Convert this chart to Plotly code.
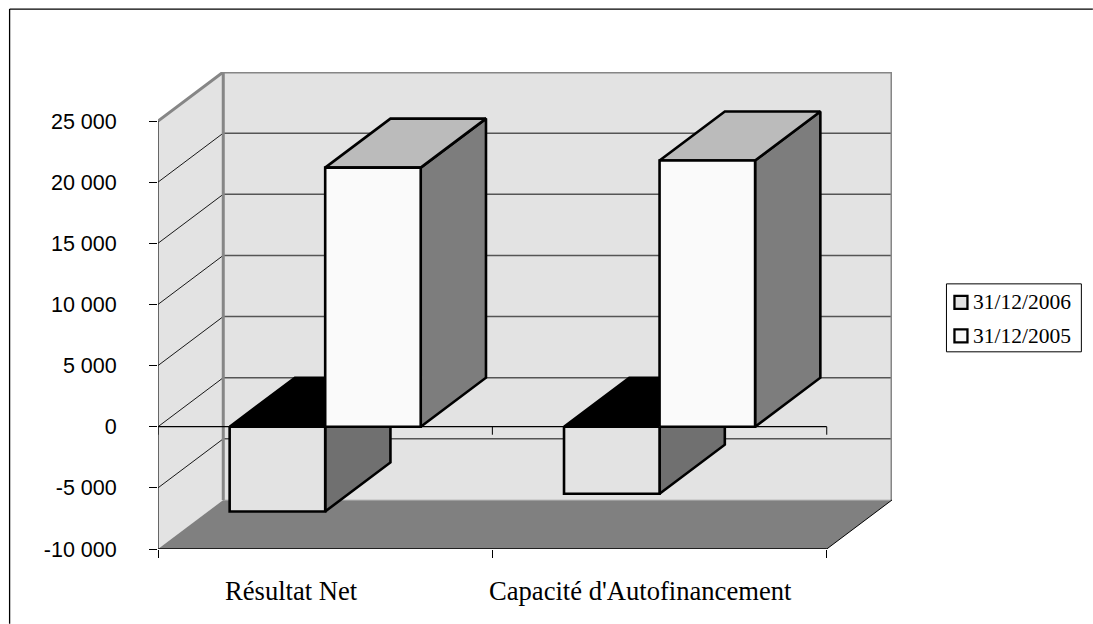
import plotly.graph_objects as go

# Data
categories = ["Résultat Net", "Capacité d'Autofinancement"]
series_names = ["31/12/2006", "31/12/2005"]
values_2006 = [-6930, -5480]
values_2005 = [21190, 21770]
y_ticks = [-10000, -5000, 0, 5000, 10000, 15000, 20000, 25000]
y_tick_labels = ["-10 000", "-5 000", "0", "5 000", "10 000", "15 000", "20 000", "25 000"]

# Layout of the pseudo-3D box (pixels)
W, H = 1093, 624
PX_L, PX_R = 157.5, 892.0
PX_T, PX_B = 72.0, 549.3
CAT_PX = 334.6
UNIT_PX = 61.1 / 5000
DEPTH_PX_X, DEPTH_PX_Y = 65.3, 49.0
DX = DEPTH_PX_X / CAT_PX          # depth in category units
DY = DEPTH_PX_Y / UNIT_PX         # depth in value units
Y_MIN, Y_TOP = -10000, 25000
N = len(categories)
BAR_W = 1 / 3.5
GAP = 0.75 * BAR_W
TICK_V = 8 / UNIT_PX

C_WALL = "#E3E3E3"
C_FLOOR = "#808080"
C_BORDER = "#868686"
C_GRID = "#555555"

fig = go.Figure()


def poly(xs, ys, fill=None, line="black", width=1.0):
    fig.add_trace(go.Scatter(
        x=xs, y=ys, mode="lines" if width else "none",
        line=dict(color=line, width=width) if width else None,
        fill="toself" if fill else None, fillcolor=fill,
        showlegend=False, hoverinfo="skip", cliponaxis=False))


# Walls and floor
poly([0, DX, DX, 0, 0], [Y_MIN, Y_MIN + DY, Y_TOP + DY, Y_TOP, Y_MIN], fill=C_WALL, width=0)
poly([DX, N + DX, N + DX, DX, DX], [Y_MIN + DY, Y_MIN + DY, Y_TOP + DY, Y_TOP + DY, Y_MIN + DY], fill=C_WALL, width=0)
poly([0, N, N + DX, DX, 0], [Y_MIN, Y_MIN, Y_MIN + DY, Y_MIN + DY, Y_MIN], fill=C_FLOOR, width=0)
poly([DX, N + DX], [Y_MIN + DY, Y_MIN + DY], line="#BDBDBD", width=1)

# Gridlines: thin diagonal on the side wall, heavier horizontal on the back wall
for v in y_ticks[1:-1]:
    poly([DX, N + DX], [v + DY, v + DY], line=C_GRID, width=1.5)
    poly([0, DX], [v, v + DY], line="black", width=0.9)

# Wall borders
poly([0, DX, N + DX, N + DX], [Y_TOP, Y_TOP + DY, Y_TOP + DY, Y_MIN + DY], line=C_BORDER, width=3)
poly([DX, DX], [Y_MIN + DY, Y_TOP + DY], line=C_BORDER, width=3)
poly([N, N + DX], [Y_MIN, Y_MIN + DY], line="black", width=1)
poly([0, N], [Y_MIN, Y_MIN], line="black", width=1.3)

# Value axis line, category axis at zero with its ticks
poly([0, 0], [Y_TOP, Y_MIN], line="#222222", width=1.3)
poly([0, N], [0, 0], line="black", width=1.3)
for i in range(N + 1):
    poly([i, i], [0, -TICK_V], line="black", width=1)


def bar(i, slot, v, front, top, side):
    x0 = i + GAP + slot * BAR_W
    x1 = x0 + BAR_W
    lw = 2.6
    poly([x1, x1 + DX, x1 + DX, x1, x1], [0, DY, v + DY, v, 0], fill=side, width=lw)
    if v >= 0:
        poly([x0, x1, x1 + DX, x0 + DX, x0], [v, v, v + DY, v + DY, v], fill=top, width=lw)
    else:
        poly([x0, x1, x1 + DX, x0 + DX, x0], [0, 0, DY, DY, 0], fill=top, width=lw)
    poly([x0, x1, x1, x0, x0], [0, 0, v, v, 0], fill=front, width=lw)


for i in range(N):
    bar(i, 0, values_2006[i], "#E3E3E3", "#000000", "#707070")
    bar(i, 1, values_2005[i], "#FAFAFA", "#BBBBBB", "#7D7D7D")

# Page-pixel helpers for the legend box and the outer frame
px = lambda p: (p - PX_L) / (PX_R - PX_L)
py = lambda p: (PX_B - p) / (PX_B - PX_T)

shapes = [
    dict(type="line", xref="paper", yref="paper", x0=px(9), x1=px(1093), y0=py(9), y1=py(9),
         line=dict(color="black", width=1.3)),
    dict(type="line", xref="paper", yref="paper", x0=px(9), x1=px(9), y0=py(9), y1=py(624),
         line=dict(color="black", width=1.3)),
    dict(type="rect", xref="paper", yref="paper", x0=px(946.5), x1=px(1081.5), y0=py(284), y1=py(352),
         line=dict(color="black", width=1), fillcolor="white"),
]
annotations = []
legend_fill = ["#E3E3E3", "#FAFAFA"]
legend_y = [302.5, 336]
for name, col, ly in zip(series_names, legend_fill, legend_y):
    shapes.append(dict(type="rect", xref="paper", yref="paper", x0=px(954.5), x1=px(967.5),
                       y0=py(ly - 6.5), y1=py(ly + 6.5), line=dict(color="black", width=2.3), fillcolor=col))
    annotations.append(dict(xref="paper", yref="paper", x=px(971), y=py(ly), text=name, showarrow=False,
                            xanchor="left", yanchor="middle",
                            font=dict(family="Liberation Serif", size=21.5, color="black")))

cat_label_x = [291.5, 640]
for name, lx in zip(categories, cat_label_x):
    annotations.append(dict(xref="paper", yref="paper", x=px(lx), y=py(591), text=name, showarrow=False,
                            xanchor="center", yanchor="middle",
                            font=dict(family="Liberation Serif", size=26.6, color="black")))

fig.update_layout(
    width=W, height=H,
    margin=dict(l=PX_L, r=W - PX_R, t=PX_T, b=H - PX_B, pad=0, autoexpand=False),
    paper_bgcolor="white", plot_bgcolor="white",
    showlegend=False,
    shapes=shapes, annotations=annotations,
    xaxis=dict(range=[0, (PX_R - PX_L) / CAT_PX], tickvals=list(range(N + 1)), ticktext=[""] * (N + 1),
               ticks="outside", ticklen=8, tickcolor="black", tickwidth=1,
               showgrid=False, zeroline=False, showline=False),
    yaxis=dict(range=[Y_MIN, Y_TOP + DY], tickvals=y_ticks, ticktext=y_tick_labels,
               ticks="outside", ticklen=8, tickcolor="black", tickwidth=1,
               ticklabelstandoff=28,
               tickfont=dict(family="Liberation Sans", size=21.5, color="black"),
               showgrid=False, zeroline=False, showline=False),
)

fig.write_html("out.html", config={"displayModeBar": False},
               post_script="document.body.style.margin='0';")
